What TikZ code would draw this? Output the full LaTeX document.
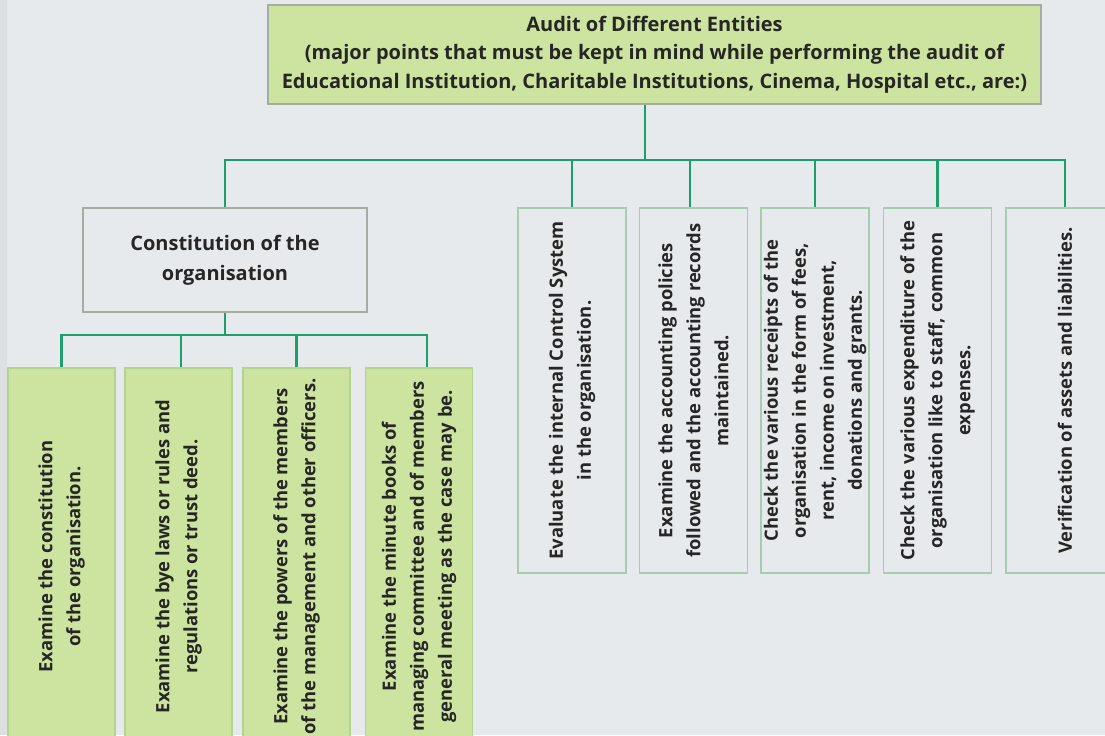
\documentclass[tikz,border=0pt]{standalone}
\usepackage{fontspec}
\setmainfont{Open Sans}

\definecolor{bgGrey}{HTML}{E7EAEC}
\definecolor{stripGrey}{HTML}{DDE0E2}
\definecolor{boxGreen}{HTML}{CDE4A0}
\definecolor{edgeGreen}{HTML}{B2D48E}
\definecolor{edgeMint}{HTML}{A6CDB0}
\definecolor{edgeGrey}{HTML}{A3ACA5}
\definecolor{linkGreen}{HTML}{1D9E6E}
\definecolor{txtDark}{HTML}{262626}

\tikzset{every picture/.style={line width=0.75pt}}
\tikzset{
link/.style={draw=linkGreen, line width=1.7pt},
headbox/.style={draw=edgeGrey, fill=boxGreen, line width=0.8pt, inner sep=0pt, align=center, text=txtDark, font=\bfseries\fontsize{15}{21.5}\selectfont},
conbox/.style={draw=edgeGrey, fill=bgGrey, line width=0.8pt, inner sep=0pt, align=center, text=txtDark, font=\bfseries\fontsize{15}{22.5}\selectfont},
vbox/.style={rotate=90, inner sep=0pt, align=center, text=txtDark, font=\bfseries\fontsize{13.8}{21}\selectfont, line width=0.8pt},
leafgreen/.style={vbox, draw=edgeGreen, fill=boxGreen, minimum width=282.75pt, minimum height=80.25pt},
leafgrey/.style={vbox, draw=edgeMint, fill=bgGrey, minimum width=273.75pt, minimum height=81pt}
}

\begin{document}
\begin{tikzpicture}[x=0.75pt,y=0.75pt,yscale=-1,xscale=1]
            \useasboundingbox (0,0) rectangle (1105,735); %diagram is 1105 wide and 735 high
            \clip (0,0) rectangle (1105,735);
            \fill [bgGrey] (0,0) rectangle (1105,735);
            \fill [stripGrey] (0,0) rectangle (7,735);

            %Head box
            \node [headbox, minimum width=579.75pt, minimum height=74.25pt] (head) at (654.5,54.5) {Audit of Different Entities\\(major points that must be kept in mind while performing the audit of\\Educational Institution, Charitable Institutions, Cinema, Hospital etc., are:)};

            %Constitution box
            \node [conbox, minimum width=213pt, minimum height=78pt] (con) at (225,260) {Constitution of the\\organisation};

            %Right leaves
            \node [leafgrey] (ics) at (572,390.5) {Evaluate the internal Control System\\in the organisation.};
            \node [leafgrey] (pol) at (693.5,390.5) {Examine the accounting policies\\followed and the accounting records\\maintained.};
            \node [leafgrey] (rec) at (815,390.5) {Check the various receipts of the\\organisation in the form of fees,\\rent, income on investment,\\donations and grants.};
            \node [leafgrey] (exp) at (937.5,390.5) {Check the various expenditure of the\\organisation like to staff, common\\expenses.};
            \node [leafgrey, minimum height=88.5pt] (ver) at (1065,390.5) {Verification of assets and liabilities.};

            %Bottom leaves
            \node [leafgreen] (cst) at (61.5,556.5) {Examine the constitution\\of the organisation.};
            \node [leafgreen] (bye) at (178.5,556.5) {Examine the bye laws or rules and\\regulations or trust deed.};
            \node [leafgreen] (pow) at (296.5,556.5) {Examine the powers of the members\\of the management and other officers.};
            \node [leafgreen] (min) at (419,556.5) {Examine the minute books of\\managing committee and of members\\general meeting as the case may be.};

            %Upper connectors
            \coordinate (busTop) at (645,160);
            \draw [link] (busTop |- head.south) -- (busTop);
            \draw [link] (busTop) -| (con.north);
            \draw [link] (busTop) -| (ics.east);
            \draw [link] (busTop) -| ([xshift=-2.5pt]pol.east);
            \draw [link] (busTop) -| (rec.east);
            \draw [link] (busTop) -| (exp.east);
            \draw [link] (busTop) -| (ver.east);

            %Lower connectors
            \coordinate (busCon) at (225,335);
            \draw [link] (con.south) -- (busCon);
            \draw [link] (busCon) -| (cst.east);
            \draw [link] (busCon) -| ([xshift=2pt]bye.east);
            \draw [link] (busCon) -| (pow.east);
            \draw [link] (busCon) -| ([xshift=6pt]min.east);
\end{tikzpicture}
\end{document}
